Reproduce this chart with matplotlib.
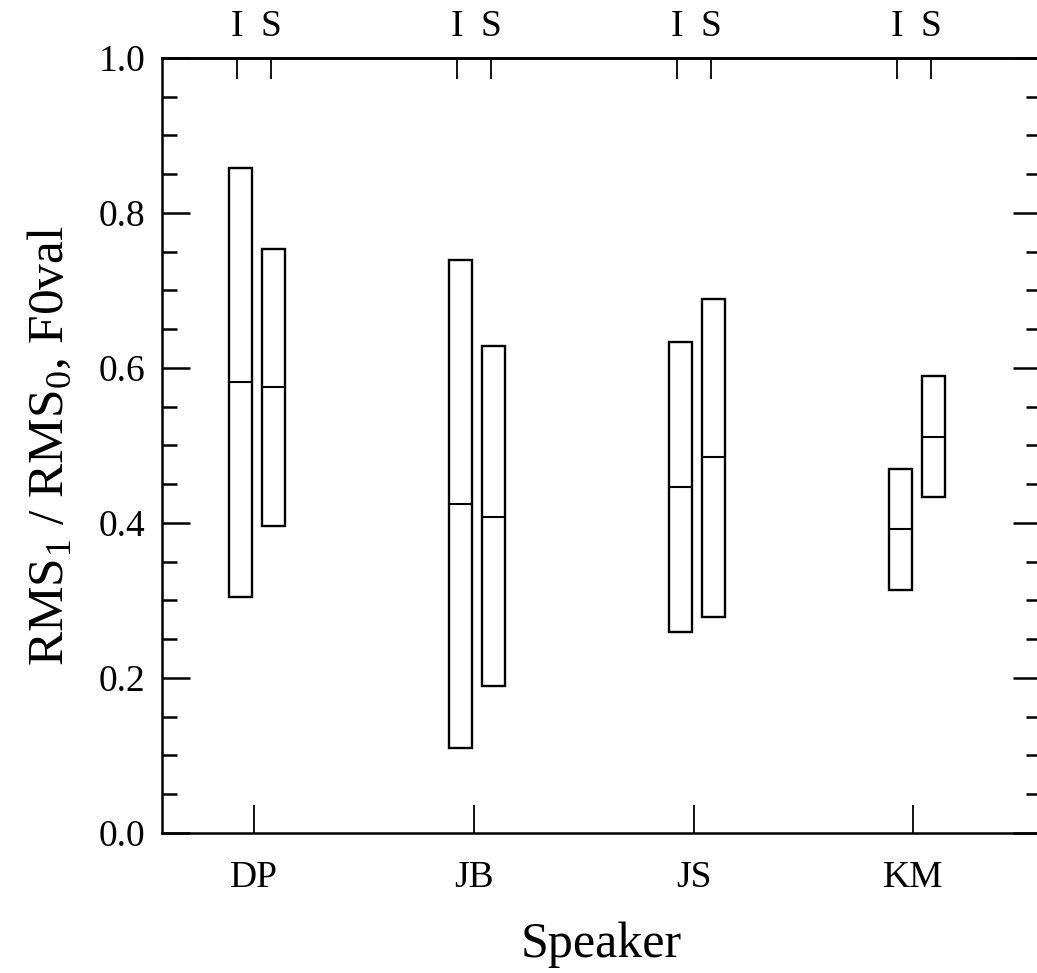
import matplotlib.pyplot as plt
from matplotlib.ticker import MultipleLocator

plt.rcParams['font.family'] = ['Liberation Serif', 'DejaVu Serif']
plt.rcParams['mathtext.fontset'] = 'custom'
plt.rcParams['mathtext.rm'] = 'Liberation Serif'

# range bars: low, median, high for each speaker and condition
speakers = ['DP', 'JB', 'JS', 'KM']
conditions = ['I', 'S']
i_low = [0.305, 0.11, 0.259, 0.314]
i_med = [0.582, 0.425, 0.446, 0.392]
i_high = [0.858, 0.739, 0.634, 0.470]
s_low = [0.396, 0.19, 0.279, 0.434]
s_med = [0.575, 0.408, 0.485, 0.511]
s_high = [0.754, 0.628, 0.689, 0.590]

fig = plt.figure(figsize=(10.37, 9.73), dpi=100)
ax = fig.add_axes([0.1562, 0.1439, 0.8476, 0.7965])

pos = range(1, len(speakers) + 1)
bw = 0.105
off_i, off_s = -0.059, 0.091

for off, lo, md, hi in [(off_i, i_low, i_med, i_high), (off_s, s_low, s_med, s_high)]:
    xs = [p + off for p in pos]
    ax.bar(xs, [h - l for h, l in zip(hi, lo)], bw, bottom=lo,
           facecolor='none', edgecolor='black', linewidth=1.7)
    ax.hlines(md, [x - bw / 2 for x in xs], [x + bw / 2 for x in xs],
              color='black', linewidth=1.5)

ax.set_xlim(0.582, 4.58)
ax.set_ylim(0, 1.0)
ax.yaxis.set_major_locator(MultipleLocator(0.2))
ax.yaxis.set_minor_locator(MultipleLocator(0.05))
ax.yaxis.set_major_formatter(plt.FormatStrFormatter('%.1f'))

ax.set_xticks(list(pos))
ax.set_xticklabels(speakers)
ax.tick_params(axis='x', direction='in', length=20, width=1.3,
               labelsize=27, pad=20)
ax.tick_params(axis='y', which='major', direction='in', length=20, width=1.8,
               right=True, labelsize=27, pad=12)
ax.tick_params(axis='y', which='minor', direction='in', length=11, width=1.8,
               right=True)

for s in ax.spines.values():
    s.set_linewidth(1.8)

top = ax.secondary_xaxis('top')
top_ticks = []
top_labels = []
for p in pos:
    top_ticks += [p - 0.075, p + 0.078]
    top_labels += conditions
top.set_xticks(top_ticks)
top.set_xticklabels(top_labels)
top.tick_params(direction='in', length=15, width=1.3, labelsize=27, pad=10)
top.spines['top'].set_linewidth(1.8)

ax.set_xlabel('Speaker', fontsize=36, labelpad=19)
ax.set_ylabel(r'RMS$_\mathrm{1}$ / RMS$_\mathrm{0}$, F0val', fontsize=37, labelpad=18)

fig.savefig('out.png', dpi=100)
